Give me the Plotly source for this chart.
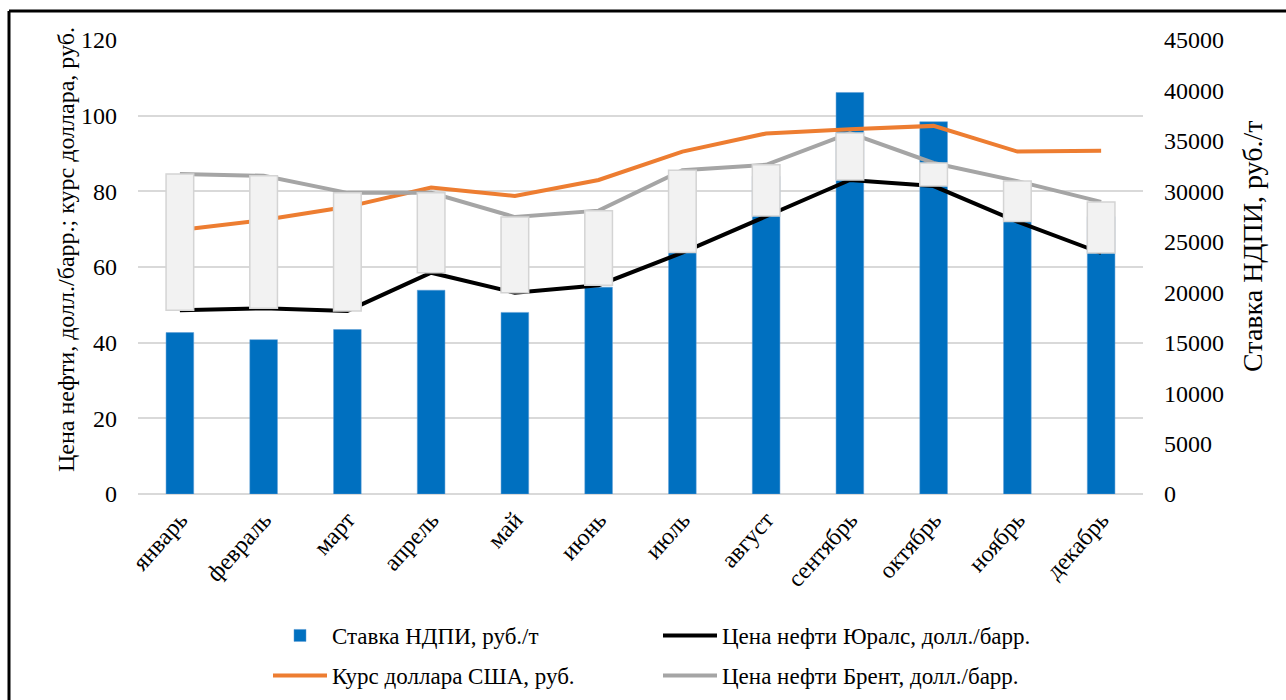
import plotly.graph_objects as go

# Monthly data
months = ['январь', 'февраль', 'март', 'апрель', 'май', 'июнь',
          'июль', 'август', 'сентябрь', 'октябрь', 'ноябрь', 'декабрь']
ndpi_rate = [16000, 15300, 16300, 20200, 18000, 20500,
             25500, 31500, 39800, 36900, 27200, 27500]
urals_price = [48.6, 49.1, 48.4, 58.5, 53.2, 55.2,
               63.8, 73.5, 83.0, 81.4, 72.0, 63.7]
usd_rate = [69.8, 72.4, 75.9, 81.0, 78.8, 83.0,
            90.5, 95.3, 96.4, 97.3, 90.5, 90.7]
brent_price = [84.6, 84.1, 79.6, 79.6, 73.2, 74.9,
               85.6, 87.0, 95.4, 87.5, 82.7, 77.2]

left_title = 'Цена нефти, долл./барр.; курс доллара, руб.'
right_title = 'Ставка НДПИ, руб./т'

FONT = 'Liberation Serif'
W, H = 1286, 700
L, R, T, B = 138, 143, 40, 206
PW, PH = W - L - R, H - T - B


def px_x(p):
    return (p - L) / PW


def px_y(p):
    return (H - B - p) / PH


fig = go.Figure()

# Tax rate bars (right axis, main subplot -> drawn first)
fig.add_trace(go.Bar(
    x=months, y=ndpi_rate, name='Ставка НДПИ, руб./т',
    marker=dict(color='#0070C0', line=dict(color='#5B9BD5', width=0.5)),
    width=0.33, yaxis='y', legend='legend'))

# Price / exchange rate lines (left axis)
fig.add_trace(go.Scatter(
    x=months, y=urals_price, mode='lines', name='Цена нефти Юралс, долл./барр.',
    line=dict(color='#000000', width=4), yaxis='y2', legend='legend'))
fig.add_trace(go.Scatter(
    x=months, y=usd_rate, mode='lines', name='Курс доллара США, руб.',
    line=dict(color='#ED7D31', width=4), yaxis='y2', legend='legend2'))
fig.add_trace(go.Scatter(
    x=months, y=brent_price, mode='lines', name='Цена нефти Брент, долл./барр.',
    line=dict(color='#A5A5A5', width=4), yaxis='y2', legend='legend2'))

# Up/down bars between Urals and Brent
spread = [b - u for b, u in zip(brent_price, urals_price)]
fig.add_trace(go.Bar(
    x=months, y=spread, base=urals_price, showlegend=False, hoverinfo='skip',
    marker=dict(color='#F2F2F2', line=dict(color='#D4D4D4', width=1.5)),
    width=0.33, yaxis='y3'))

tick_font = dict(family=FONT, size=24, color='#000000')
legend_common = dict(
    orientation='h', xanchor='left', yanchor='top',
    itemwidth=54, entrywidth=321, entrywidthmode='pixels',
    font=dict(family=FONT, size=23, color='#000000'), bgcolor='rgba(0,0,0,0)')

fig.update_layout(
    width=W, height=H,
    margin=dict(l=L, r=R, t=T, b=B, autoexpand=False),
    paper_bgcolor='white', plot_bgcolor='white',
    font=dict(family=FONT, color='#000000'),
    barmode='overlay',
    xaxis=dict(
        tickangle=-48, tickfont=dict(family=FONT, size=24, color='#000000'),
        showgrid=False, showline=False, ticks='', ticklabelstandoff=6),
    yaxis=dict(
        side='right', range=[0, 45000], dtick=5000, tickformat='d',
        showgrid=False, zeroline=False, tickfont=tick_font, ticklabelstandoff=20),
    yaxis2=dict(
        overlaying='y', side='left', range=[0, 120], dtick=20,
        showgrid=True, gridcolor='#D9D9D9', gridwidth=1.5,
        zeroline=True, zerolinecolor='#D9D9D9', zerolinewidth=1.5,
        tickfont=tick_font, ticklabelstandoff=20),
    yaxis3=dict(overlaying='y', range=[0, 120], visible=False),
    legend=dict(x=px_x(268), y=px_y(614), **legend_common),
    legend2=dict(x=px_x(268), y=px_y(654), **legend_common),
    annotations=[
        dict(text=left_title, textangle=-90, xref='paper', yref='paper',
             x=px_x(66), y=px_y(250), xanchor='center', yanchor='middle',
             showarrow=False, font=dict(family=FONT, size=24, color='#000000')),
        dict(text=right_title, textangle=-90, xref='paper', yref='paper',
             x=px_x(1252), y=px_y(247), xanchor='center', yanchor='middle',
             showarrow=False, font=dict(family=FONT, size=28, color='#000000')),
    ],
    shapes=[
        dict(type='line', xref='paper', yref='paper',
             x0=px_x(9), x1=px_x(1300), y0=px_y(11), y1=px_y(11),
             line=dict(color='#000000', width=3)),
        dict(type='line', xref='paper', yref='paper',
             x0=px_x(9), x1=px_x(9), y0=px_y(11), y1=px_y(710),
             line=dict(color='#000000', width=3)),
    ],
)

fig.write_html('out.html')
